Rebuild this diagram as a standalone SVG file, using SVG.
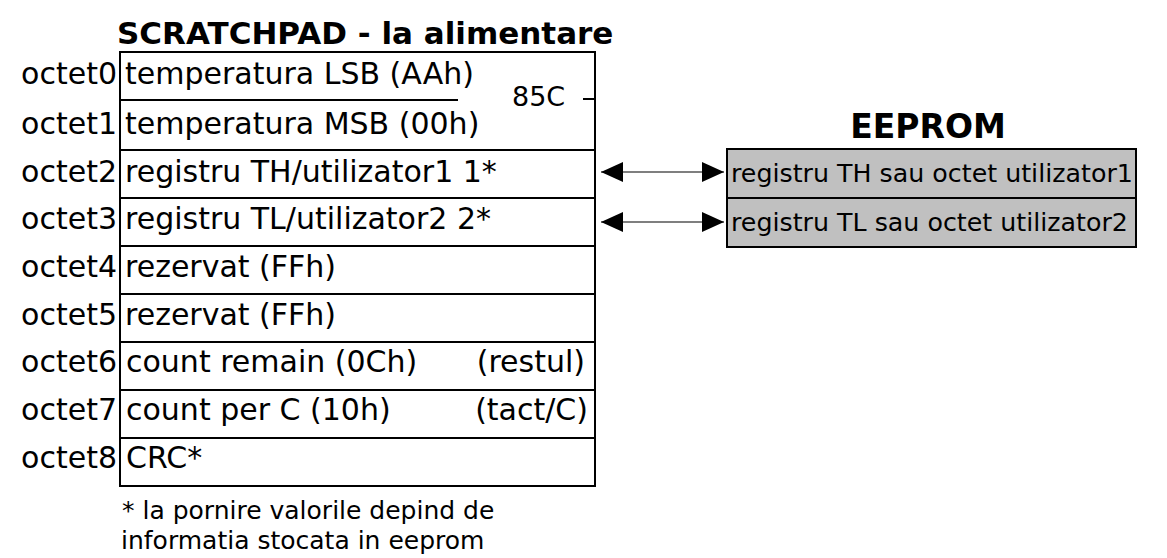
<svg xmlns="http://www.w3.org/2000/svg" width="1167" height="558" viewBox="0 0 1167 558">
<defs>
<style>
.t{font-family:"DejaVu Sans","Liberation Sans",sans-serif;font-size:30px;fill:#000}
.b{font-weight:bold}
.s{font-size:25px}
.r{text-anchor:end}
.box{fill:#fff;stroke:#000;stroke-width:2}
.ee{fill:#c0c0c0;stroke:#000;stroke-width:2}
.ln{stroke:#000;stroke-width:2;fill:none}
.ar{stroke:#000;stroke-width:1.2;fill:none}
</style>
<marker id="ah" viewBox="0 0 22 20" refX="22" refY="10" markerWidth="22" markerHeight="20" markerUnits="userSpaceOnUse" orient="auto-start-reverse">
<path d="M0,0 L22,10 L0,20 Z" fill="#000"/>
</marker>
</defs>
<rect width="1167" height="558" fill="#fff"/>
<text class="t b" x="117" y="44" style="font-size:31px">SCRATCHPAD - la alimentare</text>
<text class="t b" x="928" y="138" text-anchor="middle" style="font-size:33px">EEPROM</text>
<g id="scratchpad">
<rect class="box" x="120" y="52" width="475" height="434"/>
<line class="ln" x1="120" y1="100" x2="458" y2="100"/>
<line class="ln" x1="583" y1="99" x2="595" y2="99"/>
<line class="ln" x1="120" y1="150" x2="595" y2="150"/>
<line class="ln" x1="120" y1="198" x2="595" y2="198"/>
<line class="ln" x1="120" y1="246" x2="595" y2="246"/>
<line class="ln" x1="120" y1="294" x2="595" y2="294"/>
<line class="ln" x1="120" y1="342" x2="595" y2="342"/>
<line class="ln" x1="120" y1="390" x2="595" y2="390"/>
<line class="ln" x1="120" y1="438" x2="595" y2="438"/>
</g>
<g id="labels">
<text class="t r" x="117" y="84">octet0</text>
<text class="t r" x="117" y="134">octet1</text>
<text class="t r" x="117" y="182">octet2</text>
<text class="t r" x="117" y="229">octet3</text>
<text class="t r" x="117" y="277">octet4</text>
<text class="t r" x="117" y="325">octet5</text>
<text class="t r" x="117" y="372">octet6</text>
<text class="t r" x="117" y="420">octet7</text>
<text class="t r" x="117" y="468">octet8</text>
</g>
<g id="rows">
<text class="t" x="125" y="84">temperatura LSB (AAh)</text>
<text class="t" x="125" y="134">temperatura MSB (00h)</text>
<text class="t" x="512" y="106" style="font-size:27px">85C</text>
<text class="t" x="125" y="182">registru TH/utilizator1 1*</text>
<text class="t" x="125" y="229">registru TL/utilizator2 2*</text>
<text class="t" x="125" y="277">rezervat (FFh)</text>
<text class="t" x="125" y="325">rezervat (FFh)</text>
<text class="t" x="126" y="372">count remain (0Ch)</text>
<text class="t r" x="585" y="372">(restul)</text>
<text class="t" x="126" y="420">count per C (10h)</text>
<text class="t r" x="588" y="420">(tact/C)</text>
<text class="t" x="126" y="468">CRC*</text>
</g>
<g id="footnote">
<text class="t s" x="122" y="519">* la pornire valorile depind de</text>
<text class="t s" x="121" y="549">informatia stocata in eeprom</text>
</g>
<g id="eeprom">
<rect class="ee" x="727" y="149" width="409" height="98"/>
<line class="ln" x1="727" y1="198" x2="1136" y2="198"/>
<text class="t s" x="731" y="182" style="font-size:25.3px">registru TH sau octet utilizator1</text>
<text class="t s" x="731" y="231" style="font-size:25.3px">registru TL sau octet utilizator2</text>
</g>
<g id="connectors">
<line class="ar" x1="601" y1="172" x2="724" y2="172" marker-start="url(#ah)" marker-end="url(#ah)"/>
<line class="ar" x1="601" y1="222" x2="724" y2="222" marker-start="url(#ah)" marker-end="url(#ah)"/>
</g>
</svg>
